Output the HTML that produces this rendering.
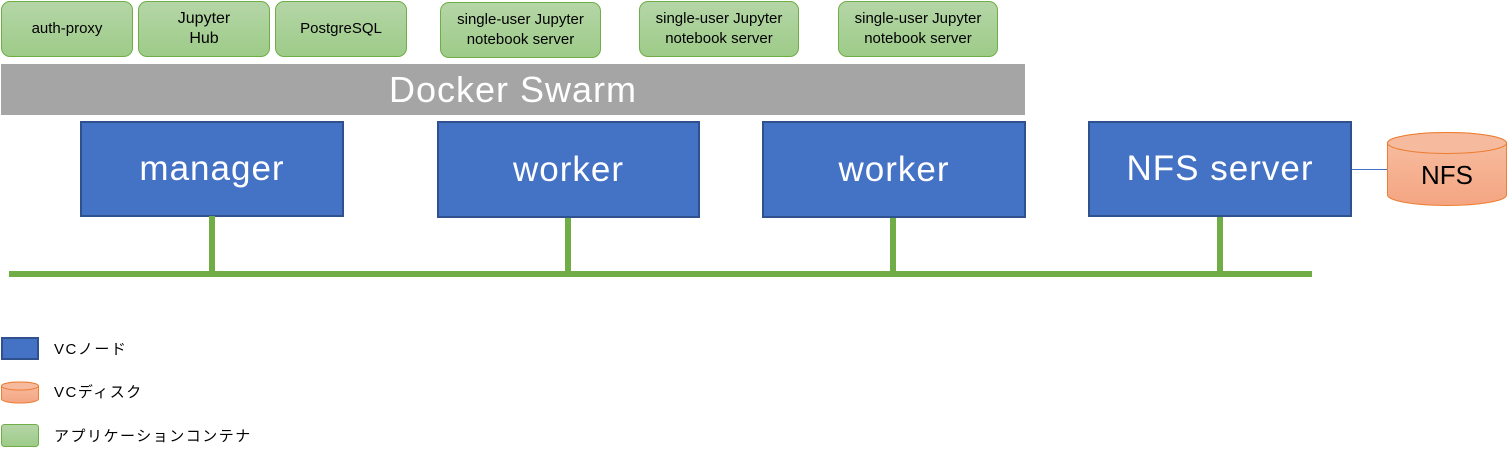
<!DOCTYPE html>
<html><head><meta charset="utf-8"><style>
body{margin:0;width:1508px;height:455px;background:#fff;position:relative;overflow:hidden;font-family:"Liberation Sans","Noto Sans CJK JP",sans-serif}
.g{position:absolute;top:1px;height:56px;border:1px solid #70ad47;border-radius:9px;background:linear-gradient(#b5d6a7,#9dcb88);box-sizing:border-box;display:flex;align-items:center;justify-content:center;text-align:center;font-size:15px;line-height:20px;color:#000}
.b{position:absolute;top:121px;background:#4472c4;border:2px solid #2f528f;box-sizing:border-box;color:#fff;font-size:35px;display:flex;align-items:center;justify-content:center;letter-spacing:1px}
.v{position:absolute;width:6px;background:#70ad47}
.lt{position:absolute;left:54px;font-size:15px;letter-spacing:1.5px;color:#000}
</style></head><body>
<div class="g" style="left:1px;width:132px">auth-proxy</div>
<div class="g" style="left:138px;width:132px;font-size:16px">Jupyter<br>Hub</div>
<div class="g" style="left:275px;width:132px">PostgreSQL</div>
<div class="g" style="left:440px;width:161px;top:2px">single-user Jupyter<br>notebook server</div>
<div class="g" style="left:639px;width:160px">single-user Jupyter<br>notebook server</div>
<div class="g" style="left:838px;width:160px">single-user Jupyter<br>notebook server</div>
<div style="position:absolute;left:1px;top:64px;width:1024px;height:51px;background:#a5a5a5;color:#fff;font-size:36px;display:flex;align-items:center;justify-content:center;letter-spacing:1px">Docker Swarm</div>
<div class="b" style="left:80px;width:264px;height:96px">manager</div>
<div class="b" style="left:437px;width:263px;height:97px">worker</div>
<div class="b" style="left:762px;width:264px;height:97px">worker</div>
<div class="b" style="left:1088px;width:264px;height:96px">NFS server</div>
<div class="v" style="left:209px;top:216px;height:58px"></div>
<div class="v" style="left:565px;top:218px;height:56px"></div>
<div class="v" style="left:890px;top:218px;height:56px"></div>
<div class="v" style="left:1217px;top:217px;height:57px"></div>
<div style="position:absolute;left:9px;top:271px;width:1303px;height:6px;background:#70ad47"></div>
<div style="position:absolute;left:1352px;top:169px;width:35px;height:1px;background:#4472c4"></div>
<svg style="position:absolute;left:0;top:0" width="1508" height="455">
<defs><linearGradient id="o" x1="0" y1="0" x2="0" y2="1"><stop offset="0" stop-color="#f7bfa2"/><stop offset="1" stop-color="#f4a582"/></linearGradient>
<linearGradient id="gg" x1="0" y1="0" x2="0" y2="1"><stop offset="0" stop-color="#b5d6a7"/><stop offset="1" stop-color="#9dcb88"/></linearGradient></defs>
<path d="M1387.5,143 A59.5,10.5 0 0 1 1506.5,143 L1506.5,195 A59.5,10.5 0 0 1 1387.5,195 Z" fill="url(#o)" stroke="#ed7d31" stroke-width="1"/>
<ellipse cx="1447" cy="143" rx="59.5" ry="10.5" fill="#f6bb9e" stroke="#ed7d31" stroke-width="1"/>
<text x="1447" y="184" text-anchor="middle" font-family="Liberation Sans, sans-serif" font-size="26" fill="#000">NFS</text>
<rect x="2" y="338" width="36" height="21" fill="#4472c4" stroke="#2f528f" stroke-width="2"/>
<path d="M1.5,386 A18.5,4 0 0 1 38.5,386 L38.5,399 A18.5,4 0 0 1 1.5,399 Z" fill="url(#o)" stroke="#ed7d31"/>
<ellipse cx="20" cy="386" rx="18.5" ry="4" fill="#f6bb9e" stroke="#ed7d31"/>
<rect x="1.5" y="424.5" width="37" height="22" rx="3" fill="url(#gg)" stroke="#70ad47"/>
</svg>
<div class="lt" style="top:338px">VCノード</div>
<div class="lt" style="top:381px">VCディスク</div>
<div class="lt" style="top:425px">アプリケーションコンテナ</div>
</body></html>
